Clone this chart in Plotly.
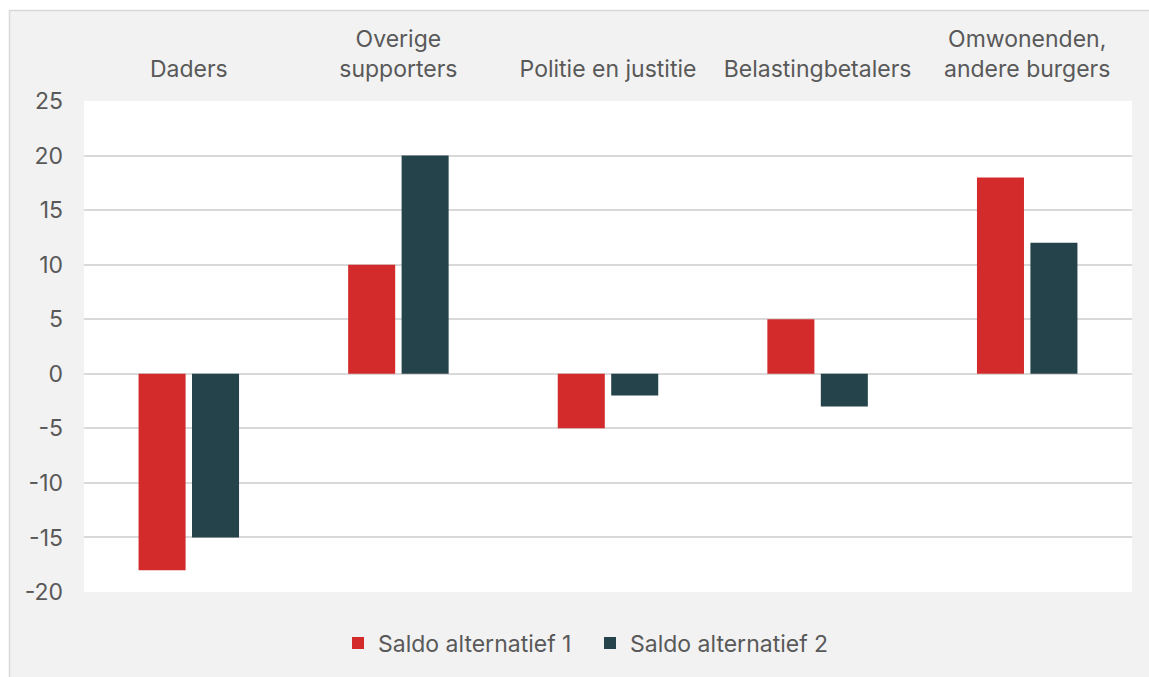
import plotly.graph_objects as go

categories = ["Daders", "Overige<br>supporters", "Politie en justitie", "Belastingbetalers", "Omwonenden,<br>andere burgers"]
saldo_1 = [-18, 10, -5, 5, 18]
saldo_2 = [-15, 20, -2, -3, 12]
series_names = ["Saldo alternatief 1", "Saldo alternatief 2"]
y_ticks = [-20, -15, -10, -5, 0, 5, 10, 15, 20, 25]
y_tick_text = [str(v) for v in y_ticks]

# page pixels (body margin removed)
W, H = 1149, 677
L, R, T, B = 84, 17, 101, 85
pw, ph = W - L - R, H - T - B

def px_x(p):
    return (p - L) / pw

def px_y(p):
    return (H - B - p) / ph

FONT = "Inter, 'Open Sans', sans-serif"
TXT = "#595959"
FS = 23

fig = go.Figure()
fig.add_trace(go.Bar(x=categories, y=saldo_1, name=series_names[0], marker_color="#d32b2b", marker_line_width=0))
fig.add_trace(go.Bar(x=categories, y=saldo_2, name=series_names[1], marker_color="#25434a", marker_line_width=0))

fig.update_layout(
    width=W, height=H,
    margin=dict(l=L, r=R, t=T, b=B, pad=0),
    paper_bgcolor="#f2f2f2",
    plot_bgcolor="#ffffff",
    barmode="group",
    bargap=0.49,
    bargroupgap=0.12,
    font=dict(family=FONT, size=FS, color=TXT),
    showlegend=True,
    legend=dict(orientation="h", x=px_x(590), xanchor="center", y=px_y(643), yanchor="middle",
                bgcolor="rgba(0,0,0,0)", font=dict(size=FS, color=TXT), itemwidth=30,
                entrywidth=207, entrywidthmode="pixels", traceorder="normal"),
    xaxis=dict(side="top", type="category", showgrid=False, showline=False, zeroline=False,
               ticks="", ticklabelstandoff=18, tickfont=dict(size=FS, color=TXT)),
    yaxis=dict(range=[-20, 25], tickvals=y_ticks, ticktext=y_tick_text, showgrid=True,
               gridcolor="#d9d9d9", gridwidth=1.5,
               zeroline=True, zerolinecolor="#d9d9d9", zerolinewidth=1.5, showline=False,
               ticks="", ticklabelstandoff=20, tickfont=dict(size=FS, color=TXT)),
    shapes=[
        dict(type="rect", xref="paper", yref="paper", x0=px_x(-20), x1=px_x(9), y0=px_y(800), y1=px_y(-20),
             fillcolor="#ffffff", line_width=0, layer="below"),
        dict(type="rect", xref="paper", yref="paper", x0=px_x(-20), x1=px_x(1300), y0=px_y(10), y1=px_y(-20),
             fillcolor="#ffffff", line_width=0, layer="below"),
        dict(type="rect", xref="paper", yref="paper", x0=px_x(9.5), x1=px_x(1300), y0=px_y(800), y1=px_y(10.5),
             fillcolor="rgba(0,0,0,0)", line=dict(color="#d9d9d9", width=1.5), layer="below"),
    ],
)

fig.write_html("out.html", config={"displayModeBar": False},
               post_script="document.body.style.margin='0';document.documentElement.style.overflow='hidden';document.body.style.overflow='hidden';")
